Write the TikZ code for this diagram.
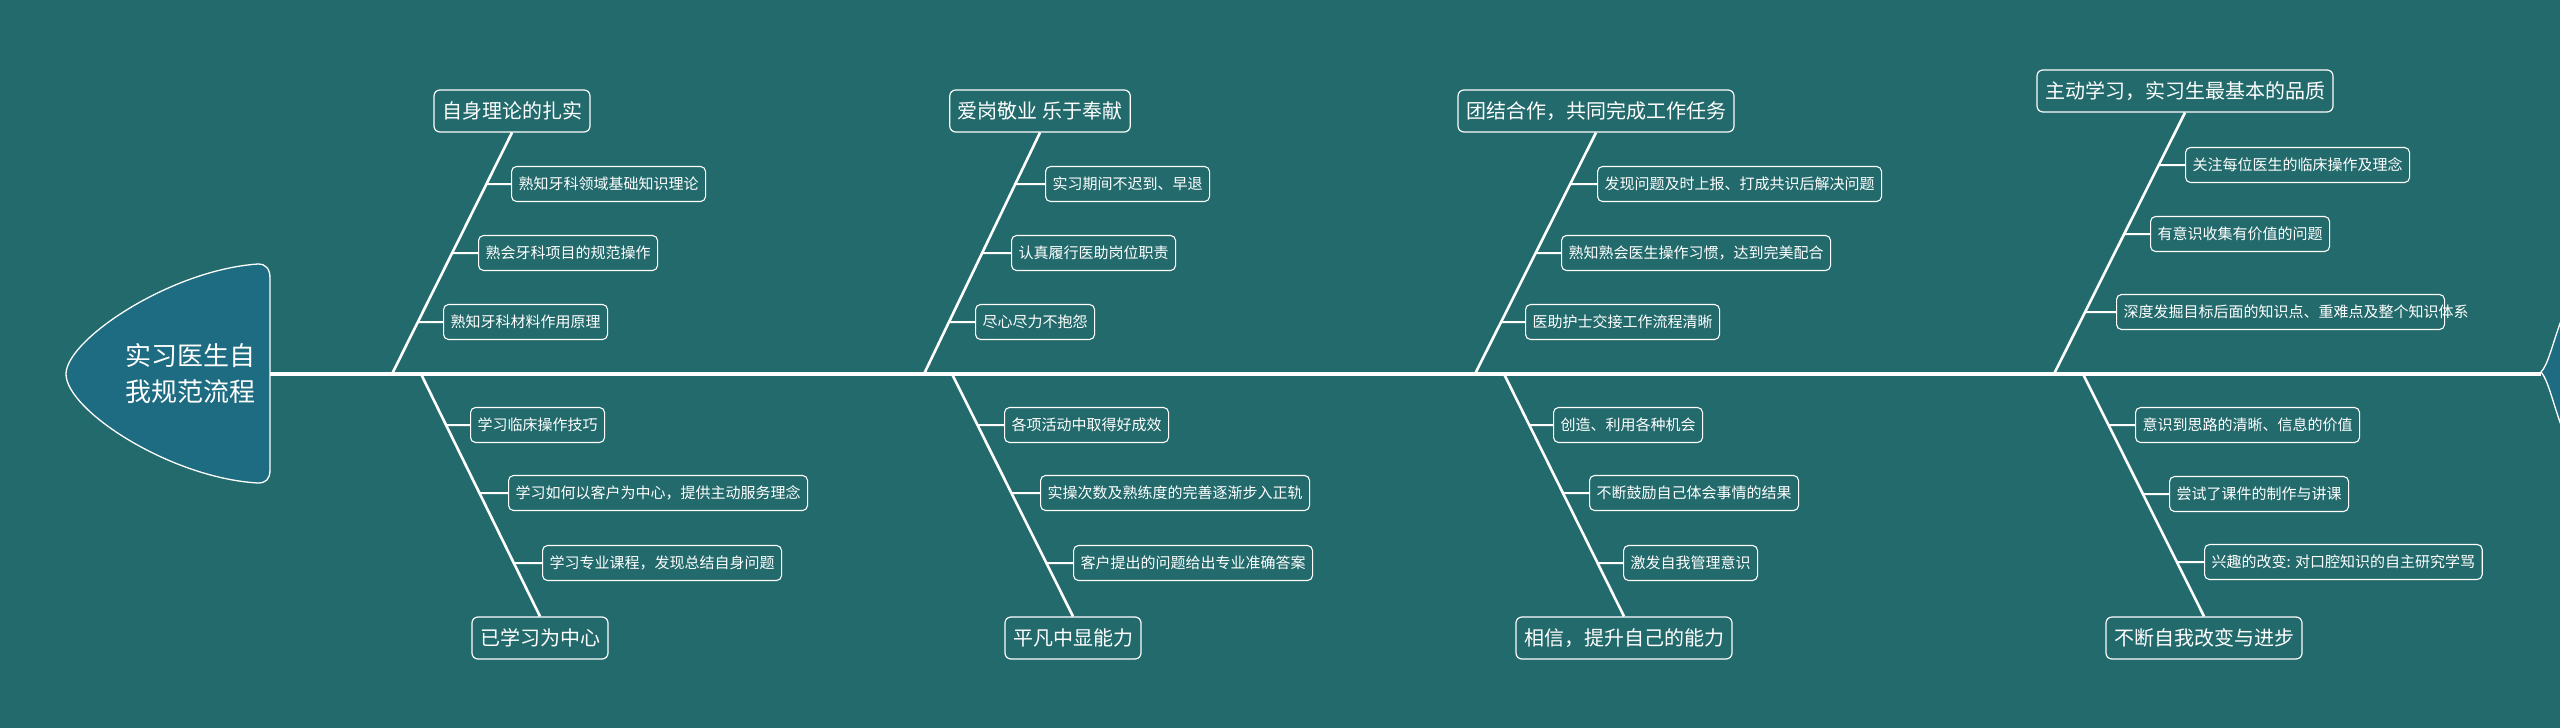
\documentclass[tikz,border=0pt]{standalone}
\usepackage{fontspec}
\setmainfont{Noto Sans CJK SC}
\begin{document}
\begin{tikzpicture}[x=1pt,y=-1pt,
  sub/.style={draw=white,line width=1.1pt,rounded corners=5pt,text=white,anchor=west,font=\fontsize{15}{18}\selectfont,minimum height=35pt,inner xsep=7pt},
  ttl/.style={draw=white,line width=1.2pt,rounded corners=6pt,text=white,font=\fontsize{20}{24}\selectfont,minimum height=42pt,inner xsep=8pt},
  bone/.style={draw=white,line width=2.6pt},
  twig/.style={draw=white,line width=2pt}]
\fill[fill={rgb,255:red,35;green,106;blue,108}] (0,0) rectangle (2560,728);
\useasboundingbox (0,0) rectangle (2560,728);
% head
\draw[white,line width=1.3pt,fill={rgb,255:red,30;green,108;blue,130}]
  (258,264) .. controls (170,270) and (66,340) .. (66,374) .. controls (66,410) and (170,478) .. (258,483)
  .. controls (266,483) and (270,479) .. (270,470) -- (270,278) .. controls (270,269) and (266,264) .. (258,264) -- cycle;
\node[text=white,align=left,font=\fontsize{26}{36}\selectfont] (head) at (190,374) {实习医生自\\我规范流程};
% tail
\draw[white,line width=1.3pt,fill={rgb,255:red,30;green,108;blue,130}]
  (2562,318) .. controls (2552,345) and (2548,365) .. (2541,372) .. controls (2548,380) and (2552,400) .. (2562,428) -- cycle;
\coordinate (spL) at (270,374);
\coordinate (spR) at (2541,374);
\draw[white,line width=3.2pt] (spL) -- (spR);

% ---------- group 1
\node[ttl] (t1u) at (512,111) {自身理论的扎实};
\node[sub] (s1u1) at (511,184) {熟知牙科领域基础知识理论};
\node[sub] (s1u2) at (478,253) {熟会牙科项目的规范操作};
\node[sub] (s1u3) at (443,322) {熟知牙科材料作用原理};
\coordinate (b1u) at (392,374);
\draw[bone] (b1u) -- (t1u.south);
\foreach \s in {s1u1,s1u2,s1u3} \draw[twig] (\s.west) -- (intersection of b1u--t1u.south and \s.west--\s.east);
\node[ttl] (t1d) at (540,638) {已学习为中心};
\node[sub] (s1d1) at (470,425) {学习临床操作技巧};
\node[sub] (s1d2) at (508,493) {学习如何以客户为中心，提供主动服务理念};
\node[sub] (s1d3) at (542,563) {学习专业课程，发现总结自身问题};
\coordinate (b1d) at (421,374);
\draw[bone] (b1d) -- (t1d.north);
\foreach \s in {s1d1,s1d2,s1d3} \draw[twig] (\s.west) -- (intersection of b1d--t1d.north and \s.west--\s.east);

% ---------- group 2
\node[ttl] (t2u) at (1040,111) {爱岗敬业 乐于奉献};
\node[sub] (s2u1) at (1045,184) {实习期间不迟到、早退};
\node[sub] (s2u2) at (1011,253) {认真履行医助岗位职责};
\node[sub] (s2u3) at (975,322) {尽心尽力不抱怨};
\coordinate (b2u) at (924,374);
\draw[bone] (b2u) -- (t2u.south);
\foreach \s in {s2u1,s2u2,s2u3} \draw[twig] (\s.west) -- (intersection of b2u--t2u.south and \s.west--\s.east);
\node[ttl] (t2d) at (1073,638) {平凡中显能力};
\node[sub] (s2d1) at (1004,425) {各项活动中取得好成效};
\node[sub] (s2d2) at (1040,493) {实操次数及熟练度的完善逐渐步入正轨};
\node[sub] (s2d3) at (1073,563) {客户提出的问题给出专业准确答案};
\coordinate (b2d) at (952,374);
\draw[bone] (b2d) -- (t2d.north);
\foreach \s in {s2d1,s2d2,s2d3} \draw[twig] (\s.west) -- (intersection of b2d--t2d.north and \s.west--\s.east);

% ---------- group 3
\node[ttl] (t3u) at (1596,111) {团结合作，共同完成工作任务};
\node[sub] (s3u1) at (1597,184) {发现问题及时上报、打成共识后解决问题};
\node[sub] (s3u2) at (1561,253) {熟知熟会医生操作习惯，达到完美配合};
\node[sub] (s3u3) at (1525,322) {医助护士交接工作流程清晰};
\coordinate (b3u) at (1475,374);
\draw[bone] (b3u) -- (t3u.south);
\foreach \s in {s3u1,s3u2,s3u3} \draw[twig] (\s.west) -- (intersection of b3u--t3u.south and \s.west--\s.east);
\node[ttl] (t3d) at (1624,638) {相信，提升自己的能力};
\node[sub] (s3d1) at (1553,425) {创造、利用各种机会};
\node[sub] (s3d2) at (1589,493) {不断鼓励自己体会事情的结果};
\node[sub] (s3d3) at (1623,563) {激发自我管理意识};
\coordinate (b3d) at (1504,374);
\draw[bone] (b3d) -- (t3d.north);
\foreach \s in {s3d1,s3d2,s3d3} \draw[twig] (\s.west) -- (intersection of b3d--t3d.north and \s.west--\s.east);

% ---------- group 4
\node[ttl] (t4u) at (2185,91) {主动学习，实习生最基本的品质};
\node[sub] (s4u1) at (2185,165) {关注每位医生的临床操作及理念};
\node[sub] (s4u2) at (2150,234) {有意识收集有价值的问题};
\node[sub,text width=314pt,align=left,font=\fontsize{15}{19}\selectfont] (s4u3) at (2116,312) {深度发掘目标后面的知识点、重难点及整个知识体系};
\coordinate (b4u) at (2054,374);
\draw[bone] (b4u) -- (t4u.south);
\foreach \s in {s4u1,s4u2,s4u3} \draw[twig] (\s.west) -- (intersection of b4u--t4u.south and \s.west--\s.east);
\node[ttl] (t4d) at (2204,638) {不断自我改变与进步};
\node[sub] (s4d1) at (2135,425) {意识到思路的清晰、信息的价值};
\node[sub] (s4d2) at (2169,494) {尝试了课件的制作与讲课};
\node[sub] (s4d3) at (2204,562) {兴趣的改变: 对口腔知识的自主研究学骂};
\coordinate (b4d) at (2083,374);
\draw[bone] (b4d) -- (t4d.north);
\foreach \s in {s4d1,s4d2,s4d3} \draw[twig] (\s.west) -- (intersection of b4d--t4d.north and \s.west--\s.east);
\end{tikzpicture}
\end{document}
